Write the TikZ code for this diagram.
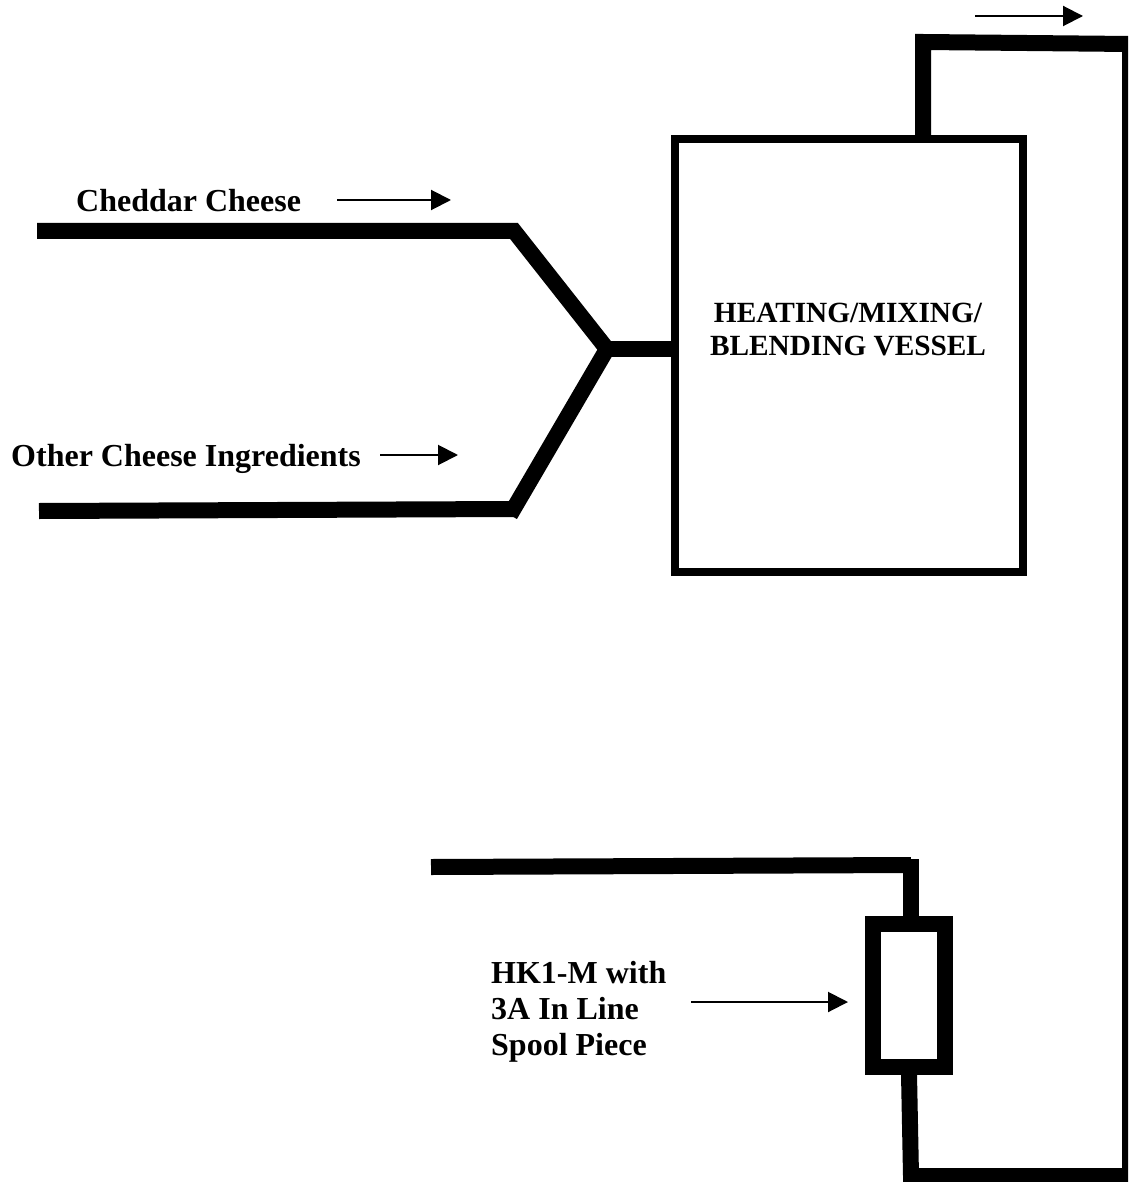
\documentclass[tikz,border=0pt]{standalone}
\usepackage{fontspec}
\setmainfont{Liberation Serif}
\usetikzlibrary{arrows.meta}
\tikzset{
  pipe/.style={line width=16pt,line join=miter,line cap=butt},
  boxline/.style={draw,line width=8pt,fill=white,inner sep=0pt},
  spool/.style={draw,line width=16pt,fill=white,inner sep=0pt},
  flow/.style={line width=2pt,-{Triangle[length=20pt,width=20pt]}},
  lab/.style={font=\bfseries\fontsize{32pt}{36pt}\selectfont,inner sep=0pt,anchor=west,align=left},
  vlab/.style={font=\bfseries\fontsize{29.3pt}{33pt}\selectfont,inner sep=0pt,align=center}
}
\begin{document}
\begin{tikzpicture}[x=1pt,y=-1pt]
\useasboundingbox[fill=white] (0,0) rectangle (1128,1182);
\coordinate (c1) at (37,231);
\coordinate (c2) at (514,231);
\coordinate (j) at (607,349);
\coordinate (o1) at (39,511);
\coordinate (o2) at (514,509);
\coordinate (o3) at (510,515);
\coordinate (jo) at (672,349);
\coordinate (t0) at (923,140);
\coordinate (t1) at (923,42);
\coordinate (t2) at (1130,44);
\coordinate (t3) at (1130,1176);
\coordinate (t4) at (911,1176);
\coordinate (t5) at (909,1074);
\coordinate (u0) at (431,867);
\coordinate (u1) at (911,865);
\coordinate (u1b) at (911,859);
\coordinate (u2) at (911,918);
\begin{scope}
\clip (0,0) rectangle (1128,1182);
\draw[pipe] (c1) -- (c2) -- (j);
\draw[pipe] (o1) -- (o2);
\draw[pipe] (o3) -- (j);
\draw[pipe] (j) -- (jo);
\draw[pipe] (t0) -- (t1) -- (t2) -- (t3) -- (t4) -- (t5);
\draw[pipe] (u0) -- (u1);
\draw[pipe] (u1b) -- (u2);
\end{scope}
\node[boxline,minimum width=348pt,minimum height=433pt] (v) at (849,355.5) {};
\node[vlab] (vt) at (848,330) {HEATING/MIXING/\\BLENDING VESSEL};
\node[spool,minimum width=72pt,minimum height=143pt] (s) at (909,995.5) {};
\node[lab] (a) at (76,201) {Cheddar Cheese};
\node[lab] (b) at (11,459) {Other Cheese Ingredients};
\node[lab] (h) at (491,1012) {HK1-M with\\3A In Line\\Spool Piece};
\coordinate (a1) at (337,200); \coordinate (a2) at (451,200);
\coordinate (b1) at (380,455); \coordinate (b2) at (458,455);
\coordinate (d1) at (975,16); \coordinate (d2) at (1083,16);
\coordinate (e1) at (691,1002); \coordinate (e2) at (848,1002);
\draw[flow] (a1) -- (a2);
\draw[flow] (b1) -- (b2);
\draw[flow] (d1) -- (d2);
\draw[flow] (e1) -- (e2);
\end{tikzpicture}
\end{document}
